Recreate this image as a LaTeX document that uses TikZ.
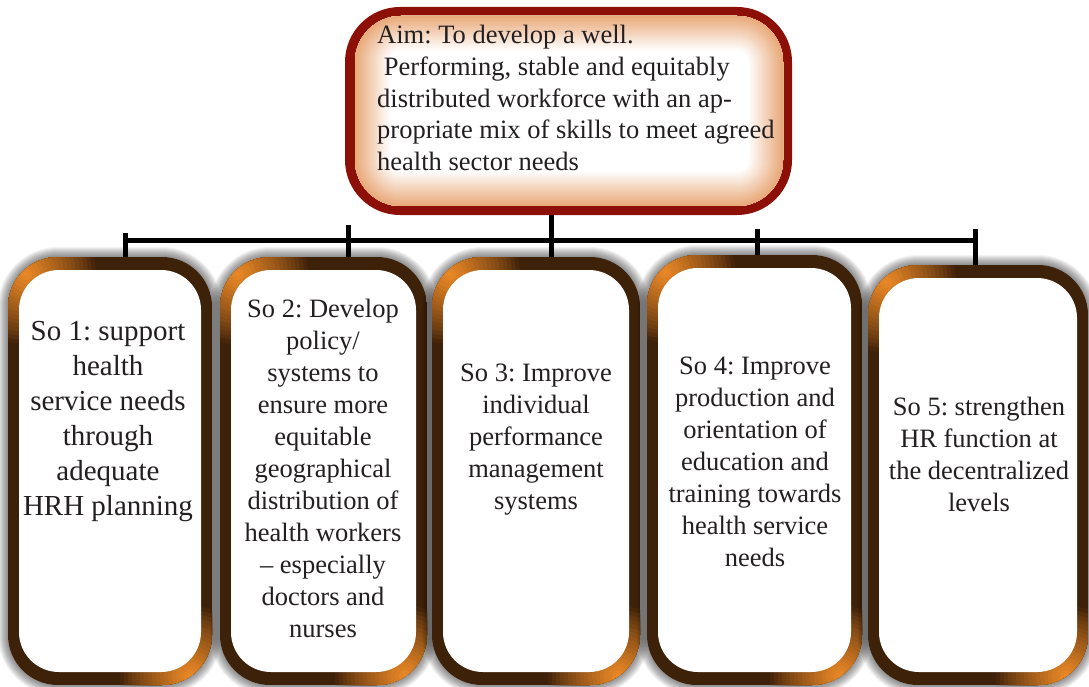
\documentclass[tikz,border=0pt]{standalone}
\usepackage{fontspec}
\setmainfont{Liberation Serif}
\usetikzlibrary{calc}
\definecolor{aimred}{RGB}{140,16,8}
\definecolor{peach}{RGB}{232,165,115}
\definecolor{brdk}{RGB}{62,33,9}
\definecolor{orng}{RGB}{240,140,40}
\definecolor{txt}{RGB}{35,31,32}
\tikzset{
  conn/.style={line width=5pt, black},
  holder/.style={inner sep=0pt, outer sep=0pt},
  sotxt/.style={align=center, inner sep=0pt, text=txt, font=\fontsize{26.5}{32}\selectfont},
}
\newcommand\soframe[1]{%
  \foreach \k in {1,...,10}{\draw[black,opacity=0.05,line width=2*\k,rounded corners=50] (#1.north west) rectangle (#1.south east);}
  \begin{scope}
    \clip[rounded corners=50] (#1.north west) rectangle (#1.south east);
    \fill[brdk] (#1.north west) rectangle (#1.south east);
    \foreach \k in {70,66,...,2}{
      \pgfmathtruncatemacro\cc{100*(1-\k/72)^0.8}
      \fill[orng!\cc!brdk] ($(#1.north west)+(18,17)$) circle[radius=\k];
      \fill[orng!\cc!brdk] ($(#1.south east)+(-22,-9)$) circle[radius=\k];
    }
  \end{scope}
  \fill[white,rounded corners=40] ($(#1.north west)+(11,13)$) rectangle ($(#1.south east)+(-11,-13)$);
}
\begin{document}
\frenchspacing
\begin{tikzpicture}[x=1pt,y=-1pt]
\useasboundingbox[fill=white] (0,0) rectangle (1089,687);
% holders
\node[holder, minimum width=447pt, minimum height=208pt] (aimbox) at (568.5,111) {};
\node[holder, minimum width=204pt, minimum height=428pt] (b1) at (110,471) {};
\node[holder, minimum width=207pt, minimum height=428pt] (b2) at (323.5,471) {};
\node[holder, minimum width=208pt, minimum height=428pt] (b3) at (536,471) {};
\node[holder, minimum width=215pt, minimum height=430pt] (b4) at (754.5,470) {};
\node[holder, minimum width=220pt, minimum height=420pt] (b5) at (978,475) {};
% connectors
\coordinate (t1) at (125,240);
\coordinate (t2) at (348,240);
\coordinate (t3) at (551,240);
\coordinate (t4) at (757,240);
\coordinate (t5) at (975,240);
\coordinate (u1) at (125,233);
\coordinate (u2) at (348,225);
\coordinate (u4) at (757,229);
\coordinate (u5) at (975,229);
\draw[conn] (t1) -- (t5);
\draw[conn] (u1) -- (u1 |- b1.north);
\draw[conn] (u2) -- (u2 |- b2.north);
\draw[conn] (aimbox.south -| t3) -- (t3 |- b3.north);
\draw[conn] (u4) -- (u4 |- b4.north);
\draw[conn] (u5) -- (u5 |- b5.north);
% aim box
\fill[aimred, rounded corners=55] (aimbox.north west) rectangle (aimbox.south east);
\begin{scope}
  \clip[rounded corners=46] ($(aimbox.north west)+(10,9)$) rectangle ($(aimbox.south east)+(-9,-9)$);
  \fill[white] (aimbox.north west) rectangle (aimbox.south east);
  \foreach \k in {34,32,...,2}{
    \pgfmathtruncatemacro\cc{100-100*\k/36}
    \draw[peach!\cc!white, line width=2*\k, rounded corners=46] ($(aimbox.north west)+(10,9)$) rectangle ($(aimbox.south east)+(-9,-9)$);
  }
\end{scope}
\node[anchor=north west, inner sep=0pt, align=left, text=txt, font=\fontsize{26.5}{31.75}\selectfont] (aim) at (377,25)
  {Aim: To develop a well.\\\hspace*{.25em}Performing, stable and equitably\\distributed workforce with an ap-\\propriate mix of skills to meet agreed\\health sector needs};
% so boxes
\soframe{b1}
\soframe{b2}
\soframe{b3}
\soframe{b4}
\soframe{b5}
\node[sotxt, font=\fontsize{29}{35}\selectfont] (s1) at (108,422) {So 1: support\\health\\service needs\\through\\adequate\\HRH planning};
\node[sotxt] (s2) at (323,468) {So 2: Develop\\policy/\\systems to\\ensure more\\equitable\\geographical\\distribution of\\health workers\\– especially\\doctors and\\nurses};
\node[sotxt] (s3) at (536,440) {So 3: Improve\\individual\\performance\\management\\systems};
\node[sotxt] (s4) at (755,462) {So 4: Improve\\production and\\orientation of\\education and\\training towards\\health service\\needs};
\node[sotxt] (s5) at (979,454) {So 5: strengthen\\HR function at\\the decentralized\\levels};
\end{tikzpicture}
\end{document}
